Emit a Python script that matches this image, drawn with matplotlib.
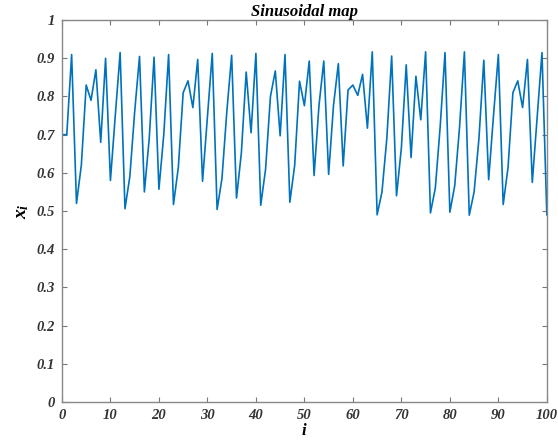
import matplotlib
matplotlib.use("Agg")
import matplotlib.pyplot as plt

# values
i_vals = list(range(101))
x_vals = [
    0.70, 0.70, 0.91, 0.52, 0.62, 0.83, 0.79, 0.87, 0.68, 0.90,
    0.58, 0.75, 0.915, 0.506, 0.59, 0.76, 0.905, 0.55, 0.69, 0.903,
    0.557, 0.70, 0.91, 0.517, 0.614, 0.81, 0.841, 0.771, 0.897, 0.578,
    0.746, 0.913, 0.504, 0.585, 0.76, 0.908, 0.534, 0.652, 0.864, 0.705,
    0.913, 0.515, 0.61, 0.80, 0.867, 0.697, 0.91, 0.523, 0.62, 0.84,
    0.776, 0.893, 0.593, 0.775, 0.893, 0.596, 0.776, 0.886, 0.618, 0.817,
    0.83, 0.803, 0.858, 0.717, 0.917, 0.49, 0.55, 0.69, 0.906, 0.54,
    0.665, 0.883, 0.64, 0.853, 0.739, 0.917, 0.495, 0.56, 0.72, 0.915,
    0.497, 0.566, 0.72, 0.917, 0.489, 0.55, 0.69, 0.895, 0.582, 0.75,
    0.91, 0.517, 0.614, 0.81, 0.841, 0.771, 0.897, 0.575, 0.745, 0.915,
    0.49,
]
x_ticks = [0, 10, 20, 30, 40, 50, 60, 70, 80, 90, 100]
y_ticks = [0, 0.1, 0.2, 0.3, 0.4, 0.5, 0.6, 0.7, 0.8, 0.9, 1]
y_tick_labels = ["0", "0.1", "0.2", "0.3", "0.4", "0.5", "0.6", "0.7", "0.8", "0.9", "1"]

plt.rcParams["font.family"] = ["Liberation Serif", "DejaVu Serif"]
plt.rcParams["mathtext.fontset"] = "custom"
plt.rcParams["mathtext.it"] = "Liberation Serif:italic:bold"
plt.rcParams["mathtext.rm"] = "Liberation Serif:bold"
font = dict(weight="bold", style="italic")

fig = plt.figure(figsize=(5.58, 4.48), dpi=100)
ax = fig.add_axes([0.111, 0.103, 0.869, 0.852])

ax.plot(i_vals, x_vals, color="#0072BD", linewidth=1.2)

ax.set_xlim(0, 100)
ax.set_ylim(0, 1)
ax.set_xticks(x_ticks)
ax.set_yticks(y_ticks)
ax.set_xticklabels([str(t) for t in x_ticks], fontsize=10.5, color="#333333", **font)
ax.set_yticklabels(y_tick_labels, fontsize=10.5, color="#333333", **font)
ax.tick_params(direction="in", length=3.5, width=0.8, color="#777777",
               top=True, right=True, pad=5)
for s in ax.spines.values():
    s.set_color("#888888")
    s.set_linewidth(1.0)

ax.set_title("Sinusoidal map", fontsize=12, pad=3, **font)
ax.set_xlabel("i", fontsize=12, labelpad=1, **font)
ax.set_ylabel("$x_i$", fontsize=14, labelpad=4)

fig.savefig("out.png", dpi=100)
